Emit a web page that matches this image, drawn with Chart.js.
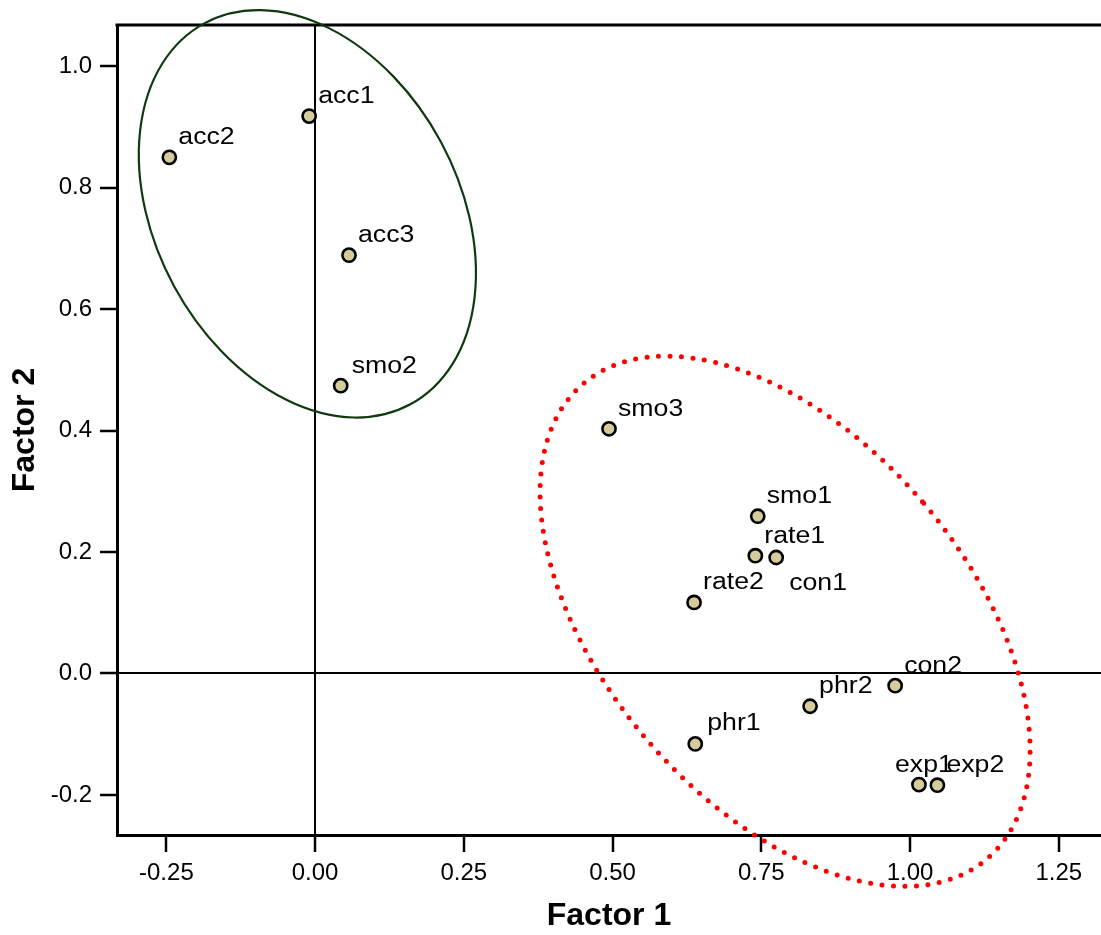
<!DOCTYPE html>
<html>
<head>
<meta charset="utf-8">
<script src="https://cdn.jsdelivr.net/npm/chart.js@4.4.1/dist/chart.umd.min.js"></script>
<style>
  html, body { margin: 0; padding: 0; background: #fff; }
  #wrap { width: 1101px; height: 935px; overflow: hidden; }
</style>
</head>
<body>
<div id="wrap"><canvas id="plot" width="1101" height="935"></canvas></div>
<script>
// ── Data (factor loadings) ──
const itemLabels = ['acc1', 'acc2', 'acc3', 'smo2', 'smo3', 'smo1', 'rate1', 'con1', 'rate2', 'con2', 'phr2', 'phr1', 'exp1', 'exp2'];
const factor1    = [-0.010, -0.245, 0.057, 0.043, 0.494, 0.744, 0.740, 0.775, 0.637, 0.975, 0.832, 0.639, 1.015, 1.046];
const factor2    = [ 0.918,  0.850, 0.689, 0.474, 0.403, 0.259, 0.194, 0.191, 0.117, -0.020, -0.054, -0.116, -0.183, -0.184];

const xTicks = [-0.25, 0, 0.25, 0.5, 0.75, 1.0, 1.25];
const yTicks = [-0.2, 0, 0.2, 0.4, 0.6, 0.8, 1.0];

// cluster ellipses (data units, tilt in degrees from vertical)
const clusterCx    = [-0.013, 0.790];
const clusterCy    = [ 0.757, 0.086];
const clusterMajor = [ 0.364, 0.524];
const clusterMinor = [ 0.255, 0.306];
const clusterTilt  = [ 28.4,  40.4];

// label placement, px from point centre to text start / baseline
const labelShift = {
    con1: [13, 32],
    exp1: [-24, -13],
    phr1: [12, -14],
    smo2: [11, -13],
};

const FONT = "'Liberation Sans', Arial, sans-serif";

const points = factor1.map((x, i) => ({ x, y: factor2[i] }));

const decorPlugin = {
    id: 'decor',
    afterDraw(chart) {
        const { ctx, chartArea: a, scales: { x, y } } = chart;

        // top frame line
        ctx.save();
        ctx.strokeStyle = '#000';
        ctx.lineWidth = 3;
        ctx.beginPath();
        ctx.moveTo(a.left - 1.5, a.top);
        ctx.lineTo(a.right + 2, a.top);
        ctx.stroke();
        ctx.restore();

        // point labels
        ctx.save();
        ctx.fillStyle = '#000';
        ctx.font = `23px ${FONT}`;
        ctx.textBaseline = 'alphabetic';
        itemLabels.forEach((lab, i) => {
            const [dx, dy] = labelShift[lab] || [9, -13];
            const px = x.getPixelForValue(factor1[i]);
            const py = y.getPixelForValue(factor2[i]);
            ctx.save();
            ctx.translate(px + dx, py + dy);
            ctx.scale(1.16, 1);
            ctx.fillText(lab, 0, 0);
            ctx.restore();
        });
        ctx.restore();

        // ellipses
        const kx = x.getPixelForValue(1) - x.getPixelForValue(0);
        clusterCx.forEach((cx, i) => {
            ctx.save();
            ctx.beginPath();
            ctx.ellipse(x.getPixelForValue(cx), y.getPixelForValue(clusterCy[i]),
                clusterMinor[i] * kx, clusterMajor[i] * kx,
                -clusterTilt[i] * Math.PI / 180, 0, Math.PI * 2);
            if (i === 0) {
                ctx.strokeStyle = '#0f3a10';
                ctx.lineWidth = 2.2;
            } else {
                ctx.strokeStyle = '#ff0000';
                ctx.lineWidth = 5;
                ctx.lineCap = 'round';
                ctx.setLineDash([0, 11.5]);
            }
            ctx.stroke();
            ctx.restore();
        });
    }
};

const zeroLine = c => (c.tick && c.tick.value === 0) ? '#000' : 'rgba(0,0,0,0)';

new Chart(document.getElementById('plot'), {
    type: 'scatter',
    data: {
        datasets: [{
            data: points,
            backgroundColor: '#d4cd9b',
            borderColor: '#000',
            borderWidth: 2.6,
            pointRadius: 6.6,
            pointHoverRadius: 6.6,
        }]
    },
    options: {
        responsive: false,
        animation: false,
        layout: { autoPadding: false, padding: { top: 25, right: 0, left: 0, bottom: 0 } },
        plugins: { legend: { display: false }, tooltip: { enabled: false } },
        scales: {
            x: {
                min: -0.333, max: 1.321,
                afterBuildTicks: s => { s.ticks = xTicks.map(v => ({ value: v })); },
                afterFit: s => { s.height = 100; s.paddingLeft = 0; s.paddingRight = 0; },
                ticks: { color: '#000', font: { family: FONT, size: 24 }, padding: 7,
                         maxRotation: 0, autoSkip: false, callback: v => v.toFixed(2) },
                grid: { color: zeroLine, lineWidth: 2, drawTicks: true, tickLength: 17,
                        tickColor: '#000', tickWidth: 2.5 },
                border: { color: '#000', width: 3 },
                title: { display: true, text: 'Factor 1', color: '#000',
                         font: { family: FONT, size: 32, weight: 'bold' }, padding: { top: 0, bottom: 0 } },
            },
            y: {
                min: -0.266, max: 1.068,
                afterBuildTicks: s => { s.ticks = yTicks.map(v => ({ value: v })); },
                afterFit: s => { s.width = 117; s.paddingTop = 0; s.paddingBottom = 0; },
                ticks: { color: '#000', font: { family: FONT, size: 24 }, padding: 8,
                         autoSkip: false, callback: v => v.toFixed(1) },
                grid: { color: zeroLine, lineWidth: 2, drawTicks: true, tickLength: 17,
                        tickColor: '#000', tickWidth: 2.5 },
                border: { color: '#000', width: 3 },
                title: { display: true, text: 'Factor 2', color: '#000',
                         font: { family: FONT, size: 32, weight: 'bold' }, padding: { top: 6, bottom: 0 } },
            }
        }
    },
    plugins: [decorPlugin]
});
</script>
</body>
</html>
